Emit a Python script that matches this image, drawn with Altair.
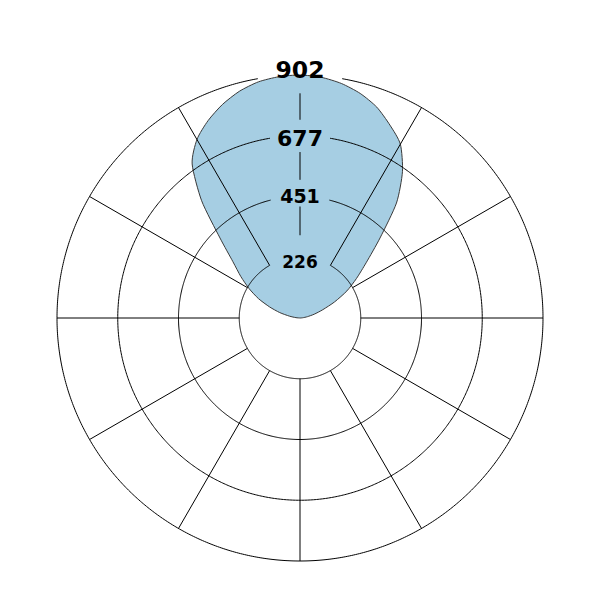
import numpy as np
import pandas as pd
import altair as alt

# ---------------- data ----------------
# angle in degrees measured from the top, clockwise; value = radial intensity
ANGLES = [0, 5, 10, 15, 20, 25, 30, 35, 40, 45, 50, 55, 60, 65, 70, 75, 80, 85, 90]
RIGHT_VALUES = [902, 897, 884, 863, 833, 790, 745, 663, 557, 420, 322, 256, 201, 142, 90, 55, 28, 10, 0]
LEFT_VALUES = [902, 899, 890, 871, 843, 808, 765, 698, 568, 420, 325, 268, 218, 170, 120, 78, 40, 15, 0]
RING_LABELS = ["226", "451", "677", "902"]
MAX_VALUE = 902
SPOKE_ANGLES = [30, 60, 90, 120, 150, 180, 210, 240, 270, 300, 330]

# ---------------- layout / style ----------------
W = H = 585
CX, CY = 292, 310            # centre of the polar plot inside the plot area (px)
R_OUT = 243                  # px radius of the outer ring
K = R_OUT / MAX_VALUE        # px per value unit
XDOM = [-CX / K, (W - CX) / K]
YDOM = [-(H - CY) / K, CY / K]
RING_GAP_DEG = [30, 14, 9.5, 10]                       # gaps in rings behind labels
SPOKE_GAP_PX = [(0, 22), (10, 16.7), (16.3, 16), (18.3, 0)]  # (below, above) each ring
LABEL_SHIFT_PX = [-6, 0, -3, 4]                        # label offset from its ring
LABEL_FONT_SIZES = [17, 19, 22, 23.5]
FILL = "#a6cee3"

ring_values = [MAX_VALUE * (i + 1) / 4 for i in range(4)]

# profile polygon: left side from 90 -> 0, then right side 0 -> 90
prof_angle = [-a for a in ANGLES[::-1]] + ANGLES[1:]
prof_value = LEFT_VALUES[::-1] + RIGHT_VALUES[1:]
profile = pd.DataFrame({"angle": prof_angle, "value": prof_value, "i": range(len(prof_angle))})

# rings (drawn as polylines with a gap at the top for the labels)
rows = []
for rv, g in zip(ring_values, RING_GAP_DEG):
    angs = np.linspace(g, 360 - g, 721)
    for j, a in enumerate(angs):
        rows.append({"ring": rv, "angle": float(a), "value": rv, "i": j})
rings = pd.DataFrame(rows)

# spokes
spokes = pd.DataFrame({"angle": SPOKE_ANGLES,
                       "r1": [ring_values[0]] * len(SPOKE_ANGLES),
                       "r2": [MAX_VALUE] * len(SPOKE_ANGLES)})
top_segments = []
for i in range(3):
    top_segments.append({"angle": 0,
                         "r1": ring_values[i] + SPOKE_GAP_PX[i][1] / K,
                         "r2": ring_values[i + 1] - SPOKE_GAP_PX[i + 1][0] / K})
spokes = pd.concat([spokes, pd.DataFrame(top_segments)], ignore_index=True)

labels = pd.DataFrame({"lab": RING_LABELS, "value": ring_values,
                       "ly": [v + s / K for v, s in zip(ring_values, LABEL_SHIFT_PX)]})

xs = alt.Scale(domain=XDOM, nice=False, zero=False)
ys = alt.Scale(domain=YDOM, nice=False, zero=False)
X_EXPR = "datum.value * sin(datum.angle * PI / 180)"
Y_EXPR = "datum.value * cos(datum.angle * PI / 180)"

area = alt.Chart(profile).transform_calculate(
    x=X_EXPR, y=Y_EXPR
).mark_line(interpolate="cardinal-closed", tension=0.3, fill=FILL, stroke="#3a3a3a",
            strokeWidth=1, fillOpacity=1).encode(
    x=alt.X("x:Q", scale=xs, axis=None),
    y=alt.Y("y:Q", scale=ys, axis=None),
    order=alt.Order("i:Q"),
)

ring_layer = alt.Chart(rings).transform_calculate(
    x=X_EXPR, y=Y_EXPR
).mark_line(stroke="black", strokeWidth=1).encode(
    x=alt.X("x:Q", scale=xs, axis=None),
    y=alt.Y("y:Q", scale=ys, axis=None),
    detail="ring:N",
    order=alt.Order("i:Q"),
)

spoke_layer = alt.Chart(spokes).transform_calculate(
    x="datum.r1 * sin(datum.angle * PI / 180)",
    y="datum.r1 * cos(datum.angle * PI / 180)",
    x2="datum.r2 * sin(datum.angle * PI / 180)",
    y2="datum.r2 * cos(datum.angle * PI / 180)",
).mark_rule(stroke="black", strokeWidth=1).encode(
    x=alt.X("x:Q", scale=xs, axis=None),
    y=alt.Y("y:Q", scale=ys, axis=None),
    x2="x2:Q",
    y2="y2:Q",
)

label_layer = alt.Chart(labels).transform_calculate(
    x="0"
).mark_text(font="DejaVu Sans", fontWeight="bold", color="black",
            align="center", baseline="middle").encode(
    x=alt.X("x:Q", scale=xs, axis=None),
    y=alt.Y("ly:Q", scale=ys, axis=None),
    text="lab:N",
    size=alt.Size("value:Q", scale=alt.Scale(type="linear", domain=ring_values,
                                             range=LABEL_FONT_SIZES, zero=False),
                  legend=None),
)

chart = alt.layer(area, ring_layer, spoke_layer, label_layer).properties(
    width=W, height=H, padding=0
).configure_view(stroke=None)

chart.save("out.html", embed_options={"renderer": "svg", "actions": False})
